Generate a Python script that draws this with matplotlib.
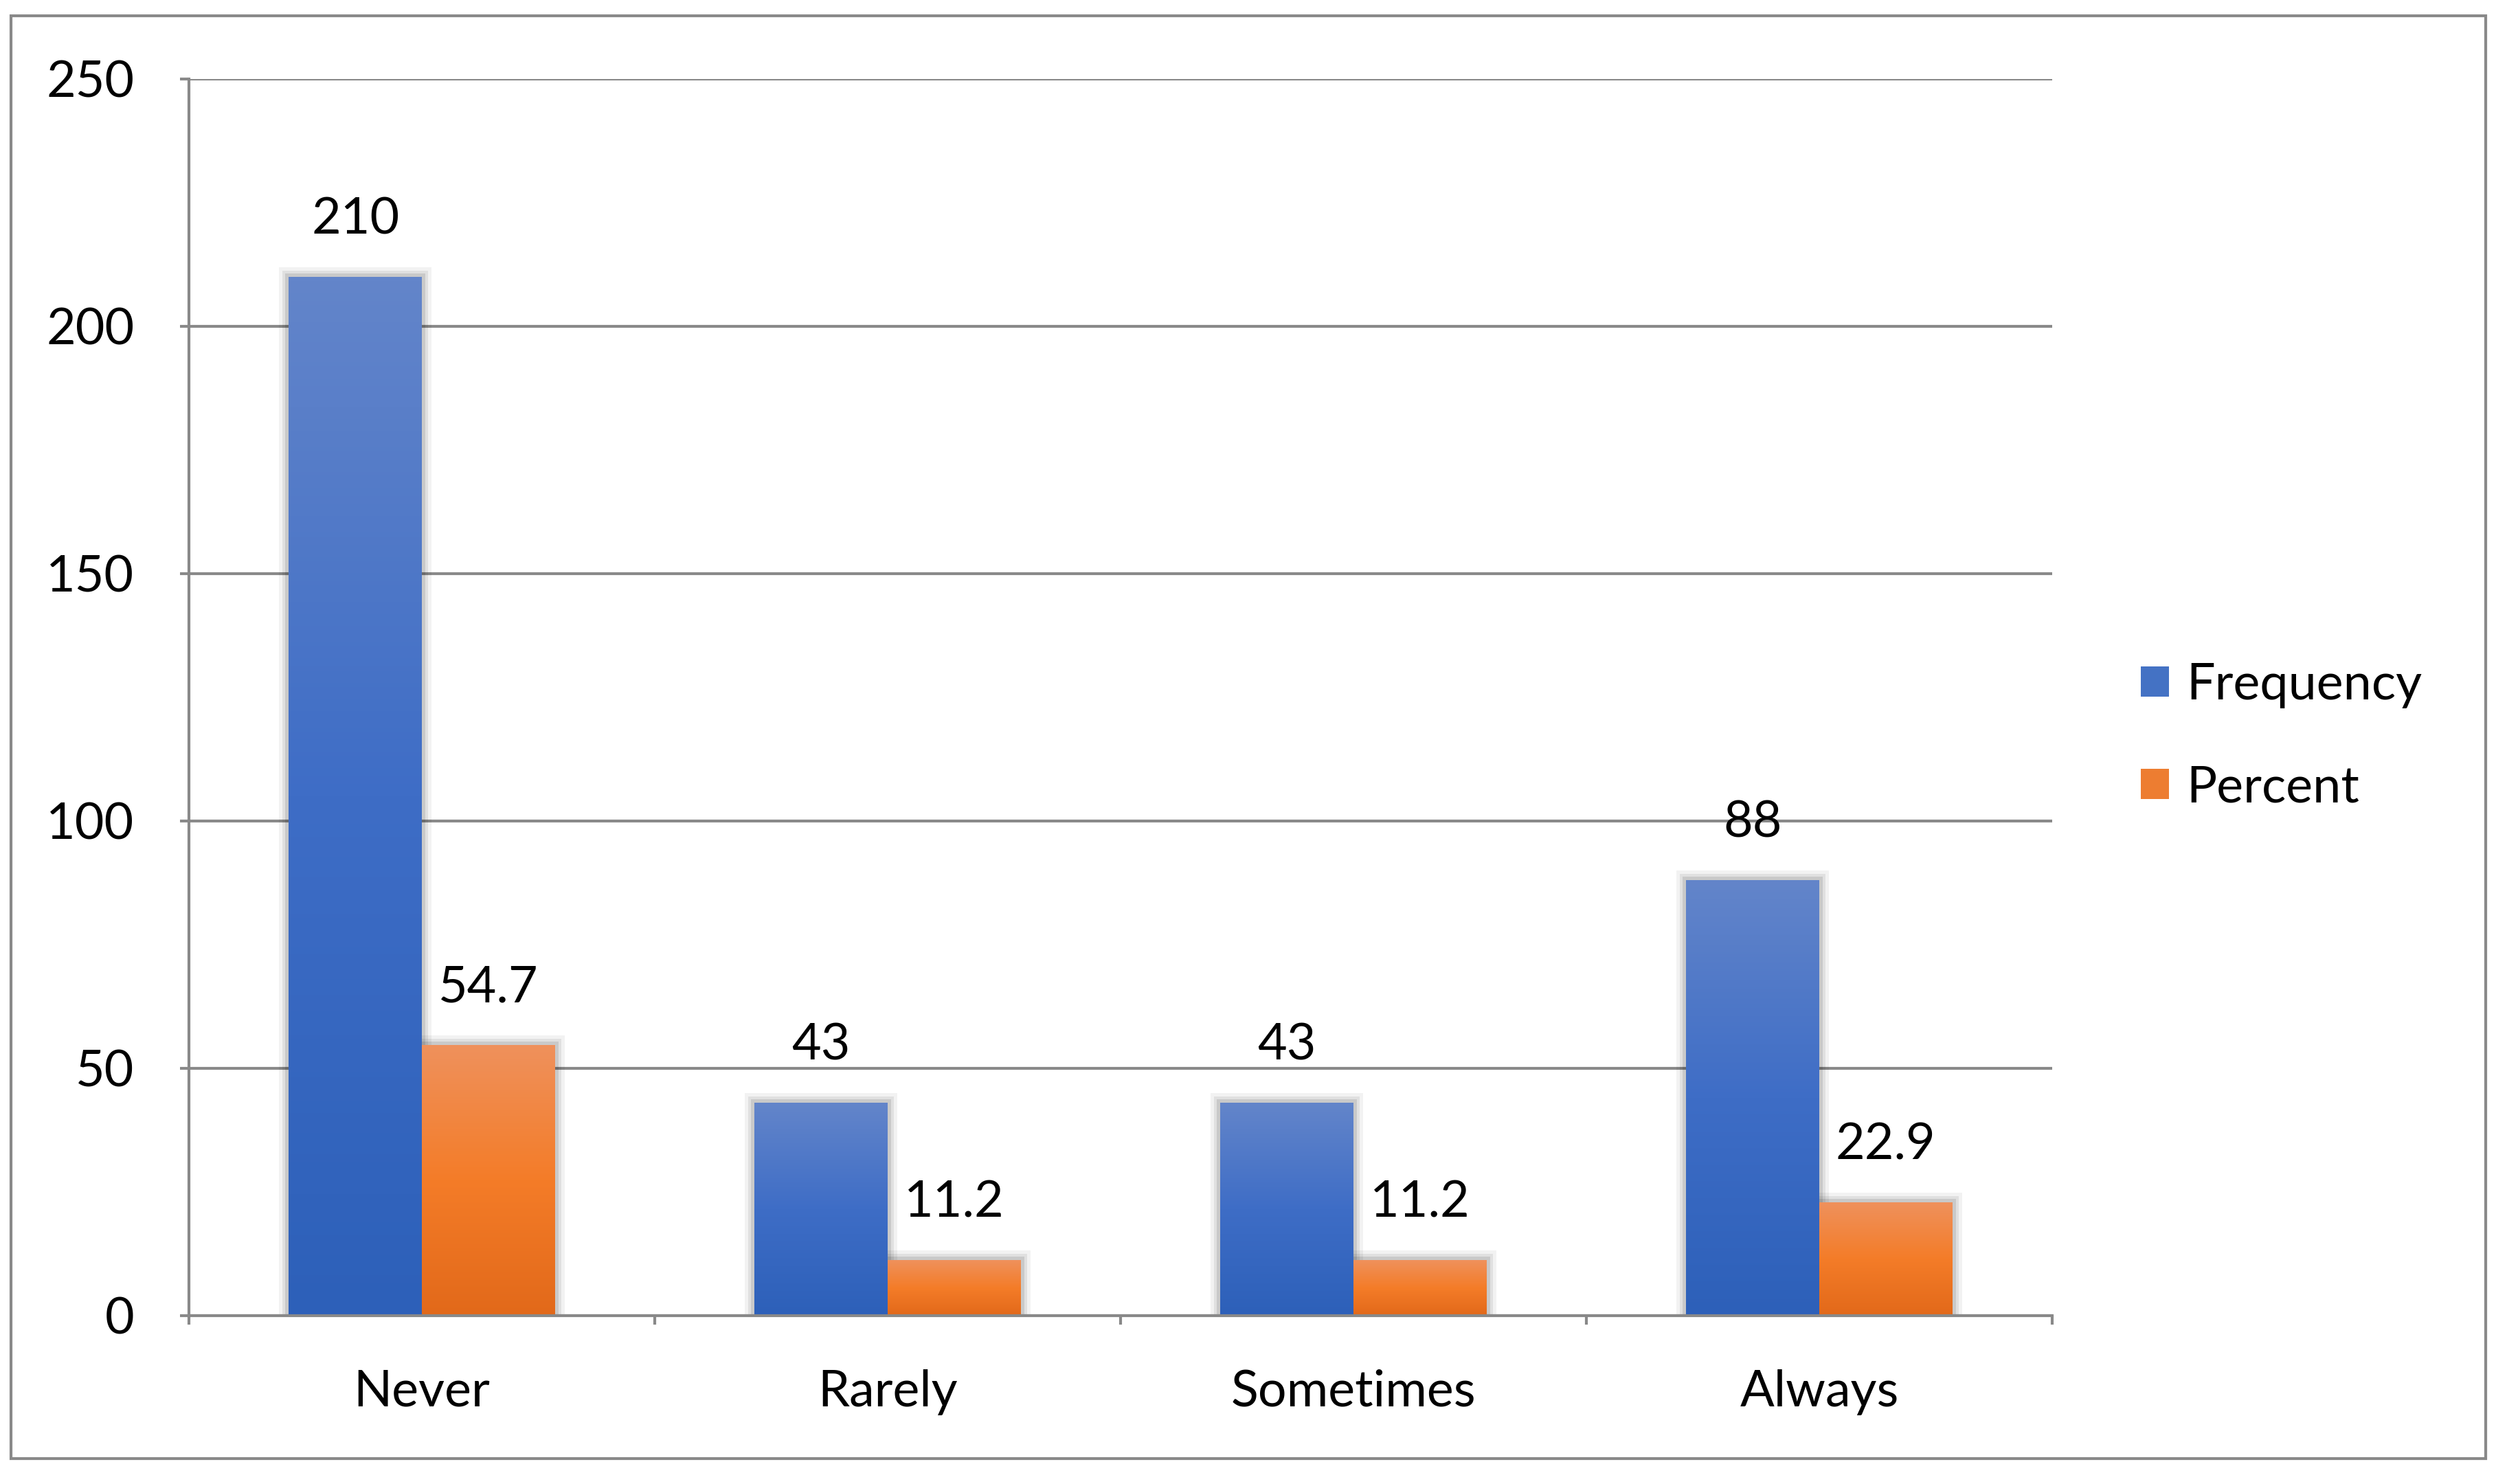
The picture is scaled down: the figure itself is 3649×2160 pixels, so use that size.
import matplotlib
matplotlib.use("Agg")
import matplotlib.pyplot as plt
import numpy as np
from matplotlib.patches import Patch, Rectangle
from matplotlib.colors import LinearSegmentedColormap

# data
categories = ["Never", "Rarely", "Sometimes", "Always"]
frequency = [210, 43, 43, 88]
percent = [54.7, 11.2, 11.2, 22.9]
freq_labels = ["210", "43", "43", "88"]
pct_labels = ["54.7", "11.2", "11.2", "22.9"]
yticks = [0, 50, 100, 150, 200, 250]

plt.rcParams['font.family'] = ['Lato', 'DejaVu Sans']
FS = 26.5
GRAY = "#898989"

W, H, DPI = 3649, 2160, 200
fig = plt.figure(figsize=(W / DPI, H / DPI), dpi=DPI)

# outer frame
fig.patches.append(Rectangle((16 / W, 1 - 2123 / H), (3618 - 16) / W, (2123 - 23) / H,
                             transform=fig.transFigure, fill=False,
                             edgecolor=GRAY, linewidth=1.5))

ax = fig.add_axes([275 / W, 1 - 1915 / H, (2987 - 275) / W, (1915 - 115) / H])

x = np.arange(len(categories))
bw = 1 / 3.5   # gap width 150%
px_x = 1 / 678.0
px_y = 250 / 1800.0

cmaps = {
    "freq": LinearSegmentedColormap.from_list("f", ["#2D60B9", "#3E6DC6", "#6385CA"]),
    "pct": LinearSegmentedColormap.from_list("p", ["#E2691A", "#F47C28", "#EF915C"]),
}

b1 = ax.bar(x - bw / 2, frequency, bw, color="none", zorder=3)
b2 = ax.bar(x + bw / 2, percent, bw, color="none", zorder=3)

grad = np.linspace(0, 1, 256).reshape(-1, 1)
for bars, key in [(b1, "freq"), (b2, "pct")]:
    for p in bars:
        x0, w, h = p.get_x(), p.get_width(), p.get_height()
        # soft shadow
        for k, a in [(14, 0.05), (9, 0.07), (5, 0.10)]:
            ax.add_patch(Rectangle((x0 - k * px_x, -k * px_y * 0.3), w + 2 * k * px_x,
                                   h + k * px_y * 1.3, facecolor="black", alpha=a,
                                   edgecolor="none", zorder=2))
        ax.imshow(grad, extent=[x0, x0 + w, 0, h], origin="lower", aspect="auto",
                  cmap=cmaps[key], zorder=3)

for bars, labs in [(b1, freq_labels), (b2, pct_labels)]:
    for p, lab in zip(bars, labs):
        ax.text(p.get_x() + p.get_width() / 2, p.get_height() + 83 * px_y, lab,
                ha="center", va="center", fontsize=FS, color="black", zorder=5)

ax.set_xlim(-0.5, len(categories) - 0.5)
ax.set_ylim(0, 250)
ax.set_yticks(yticks)
ax.set_yticklabels([str(v) for v in yticks], fontsize=FS)
ax.set_xticks(np.arange(len(categories) + 1) - 0.5)
ax.set_xticklabels([])
ax.set_xticks(x, minor=True)
ax.set_xticklabels(categories, minor=True, fontsize=FS)
ax.tick_params(axis="x", which="minor", length=0, pad=28)
ax.tick_params(axis="x", which="major", length=4.7, width=1.5, color=GRAY)
ax.tick_params(axis="y", length=4.7, width=1.5, color=GRAY, pad=24)

ax.grid(axis="y", color=GRAY, linewidth=1.5, zorder=1)
ax.set_axisbelow(True)
for s in ["top", "right"]:
    ax.spines[s].set_visible(False)
for s in ["left", "bottom"]:
    ax.spines[s].set_color(GRAY)
    ax.spines[s].set_linewidth(1.5)
    ax.spines[s].set_zorder(4)

handles = [Patch(facecolor="#4472C4", label="Frequency"),
           Patch(facecolor="#ED7D31", label="Percent")]
fig.legend(handles=handles, loc="center left", bbox_to_anchor=(3050 / W, 1 - 1072 / H),
           frameon=False, fontsize=FS, handlelength=0.55, handleheight=0.55,
           handletextpad=0.35, labelspacing=1.12)

fig.savefig("out.png", dpi=DPI)
